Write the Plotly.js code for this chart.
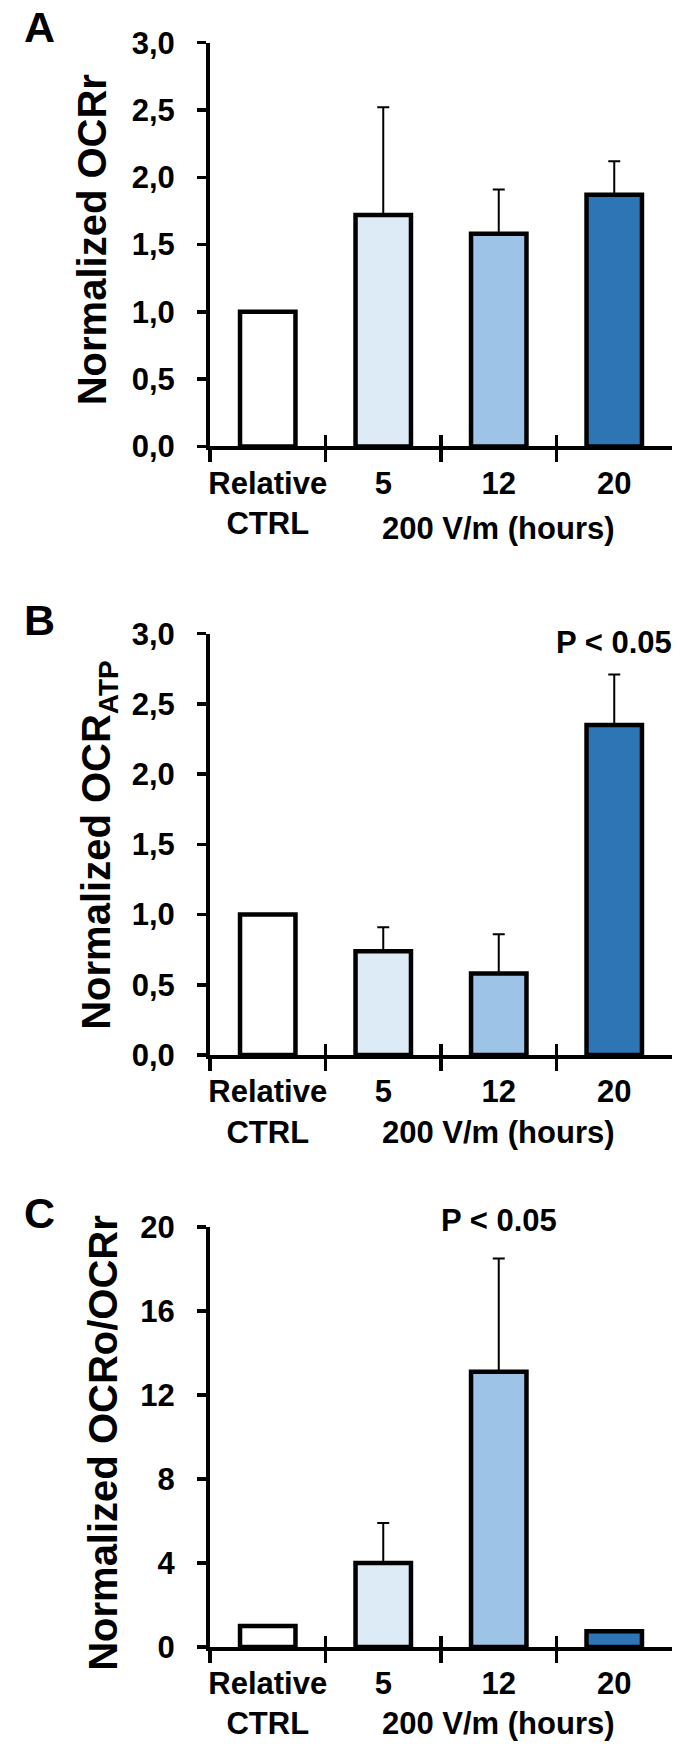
<!DOCTYPE html>
<html>
<head>
<meta charset="utf-8">
<script src="https://cdn.plot.ly/plotly-3.0.1.min.js"></script>
<style>html,body{margin:0;padding:0;background:#fff}</style>
</head>
<body>
<div id="chart" style="width:700px;height:1750px"></div>
<script>
// categories on the x axis (same for the three panels)
var categories = ['Relative<br>CTRL', '5', '12', '20'];
var barColors = ['#ffffff', '#ddebf7', '#9dc3e6', '#2e75b6'];

// panel A - normalized OCRr
var ocrR = [1.0, 1.72, 1.58, 1.87];
var ocrRErr = [null, 0.80, 0.33, 0.25];
// panel B - normalized OCR ATP
var ocrAtp = [1.0, 0.74, 0.58, 2.35];
var ocrAtpErr = [null, 0.17, 0.28, 0.36];
// panel C - normalized OCRo/OCRr
var ocrRatio = [1.0, 4.0, 13.1, 0.75];
var ocrRatioErr = [null, 1.9, 5.4, null];

var yTicksAB = [0, 0.5, 1, 1.5, 2, 2.5, 3];
var yTicksC = [0, 4, 8, 12, 16, 20];
var zeros = [0, 0, 0, 0];

var FONT = 'Liberation Sans, Arial, Helvetica, sans-serif';
var xDomain = [0.3, 0.96];

function bars(y, err, xa, ya) {
  return {
    type: 'bar', x: categories, y: y, xaxis: xa, yaxis: ya, width: 0.48,
    marker: {color: barColors, line: {color: '#000', width: 4.5}},
    error_y: {type: 'data', array: err, arrayminus: zeros, symmetric: false,
              color: '#000', thickness: 2, width: 6},
    showlegend: false, hoverinfo: 'skip'
  };
}

// invisible trace so the overlay axis (upper half of the crossing ticks) gets drawn
function tickHolder(xa, ya) {
  return {type: 'scatter', mode: 'markers', x: categories, y: zeros, xaxis: xa, yaxis: ya,
          marker: {opacity: 0}, showlegend: false, hoverinfo: 'skip'};
}

function xMain(anchor) {
  return {
    domain: xDomain, anchor: anchor, type: 'category', range: [-0.5, 3.5],
    showline: true, linecolor: '#000', linewidth: 4,
    ticks: 'outside', ticklen: 12, tickwidth: 3.5, tickcolor: '#000', tickson: 'boundaries',
    showgrid: false, zeroline: false, ticklabelstandoff: 6, tickangle: 0,
    tickfont: {family: FONT, size: 31, color: '#000', weight: 'bold'}
  };
}

function xOver(over, anchor) {
  return {
    domain: xDomain, overlaying: over, anchor: anchor, type: 'category', range: [-0.5, 3.5],
    showline: false, ticks: 'inside', ticklen: 11, tickwidth: 3.5, tickcolor: '#000',
    tickson: 'boundaries', showgrid: false, zeroline: false, showticklabels: false
  };
}

function yAxis(domain, anchor, range, ticks, fmt) {
  return {
    domain: domain, anchor: anchor, range: range, tickvals: ticks, tickformat: fmt,
    showline: true, linecolor: '#000', linewidth: 4,
    ticks: 'outside', ticklen: 9, tickwidth: 3.5, tickcolor: '#000',
    showgrid: false, zeroline: false, ticklabelstandoff: 16,
    tickfont: {family: FONT, size: 31, color: '#000', weight: 'bold'}
  };
}

var data = [
  bars(ocrR, ocrRErr, 'x', 'y'),
  bars(ocrAtp, ocrAtpErr, 'x2', 'y2'),
  bars(ocrRatio, ocrRatioErr, 'x3', 'y3'),
  tickHolder('x4', 'y'),
  tickHolder('x5', 'y2'),
  tickHolder('x6', 'y3')
];

var txt = {family: FONT, size: 31, color: '#000', weight: 'bold'};
var big = {family: FONT, size: 43, color: '#000', weight: 'bold'};
var ttl = {family: FONT, size: 40, color: '#000', weight: 'bold'};

function note(text, xref, x, yref, y, font, extra) {
  var a = {text: text, xref: xref, x: x, yref: yref, y: y, showarrow: false,
           xanchor: 'center', yanchor: 'middle', font: font};
  for (var k in extra) a[k] = extra[k];
  return a;
}

var annotations = [
  note('A', 'paper', 0.057, 'paper', 0.9846, big),
  note('B', 'paper', 0.057, 'paper', 0.6457, big),
  note('C', 'paper', 0.057, 'paper', 0.3069, big),
  note('Normalized OCRr', 'paper', 0.131, 'y domain', 0.5, ttl, {textangle: -90, yshift: 5}),
  note('Normalized OCR<sub>ATP</sub>', 'paper', 0.142, 'y2 domain', 0.5, ttl, {textangle: -90}),
  note('Normalized OCRo/OCRr', 'paper', 0.147, 'y3 domain', 0.5, ttl, {textangle: -90, yshift: -6}),
  note('200 V/m (hours)', 'x', 2, 'y domain', 0, txt, {yanchor: 'top', yshift: -63}),
  note('200 V/m (hours)', 'x2', 2, 'y2 domain', 0, txt, {yanchor: 'top', yshift: -58}),
  note('200 V/m (hours)', 'x3', 2, 'y3 domain', 0, txt, {yanchor: 'top', yshift: -57}),
  note('P < 0.05', 'x2', 3, 'y2 domain', 1, txt, {yshift: -9}),
  note('P < 0.05', 'x3', 2, 'y3 domain', 1, txt, {yshift: 6})
];

var layout = {
  width: 700, height: 1750,
  margin: {l: 0, r: 0, t: 0, b: 0},
  paper_bgcolor: '#fff', plot_bgcolor: 'rgba(0,0,0,0)',
  separators: ', ',
  showlegend: false,
  font: {family: FONT, color: '#000'},
  xaxis: xMain('y'),
  xaxis2: xMain('y2'),
  xaxis3: xMain('y3'),
  xaxis4: xOver('x', 'y'),
  xaxis5: xOver('x2', 'y2'),
  xaxis6: xOver('x3', 'y3'),
  yaxis: yAxis([0.7449, 0.9756], 'x', [0, 3], yTicksAB, '.1f'),
  yaxis2: yAxis([0.3971, 0.6379], 'x2', [0, 3], yTicksAB, '.1f'),
  yaxis3: yAxis([0.0589, 0.2989], 'x3', [0, 20], yTicksC, 'd'),
  annotations: annotations
};

Plotly.newPlot('chart', data, layout, {displayModeBar: false, staticPlot: true});
</script>
</body>
</html>
